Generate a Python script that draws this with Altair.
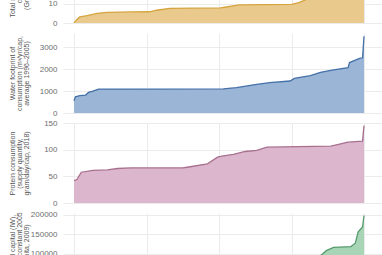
import altair as alt
import pandas as pd

x_ticks = [0, 50, 100, 150, 200]

# Panel 1: total renewable water (sorted by country rank)
res_rank = [0, 2, 4, 9, 16, 23, 39, 52, 57, 66, 101, 105, 114, 150, 155, 158, 165, 175, 185, 195, 200]
res_val = [0, 1.9, 3.2, 3.9, 5.1, 5.6, 5.8, 5.9, 6.7, 7.7, 7.9, 8.4, 9.5, 9.8, 10.7, 11.6, 14, 18, 24, 35, 60]
res_title = ["Total renewable water", "consumption", "(Gm³/year, 2017)"]
res_ticks = [0, 10, 20, 30, 40]

# Panel 2: water footprint
wf_rank = [0, 1, 4, 8, 10, 13, 17, 39, 103, 112, 126, 135, 149, 152, 163, 170, 178, 189, 190, 197, 199, 200]
wf_val = [560, 740, 790, 820, 940, 1000, 1090, 1090, 1100, 1155, 1310, 1385, 1460, 1580, 1700, 1855, 1960, 2070, 2300, 2490, 2520, 3500]
wf_title = ["Water footprint of", "consumption (m³/yr/cap,", "average 1996–2005)"]
wf_ticks = [0, 1000, 2000, 3000]

# Panel 3: protein consumption
pr_rank = [0, 2, 5, 13, 23, 30, 39, 75, 78, 92, 99, 102, 110, 118, 126, 133, 177, 181, 189, 199, 200]
pr_val = [42, 44, 57.7, 61, 62, 64.7, 65.8, 65.8, 67, 73.3, 86, 87.8, 91, 96.6, 98.5, 104.7, 106.6, 109, 114, 116, 145]
pr_title = ["Protein consumption", "(supply quantity,", "gram/day/cap, 2018)"]
pr_ticks = [0, 50, 100, 150]

# Panel 4: capital
cap_rank = [0, 20, 50, 80, 100, 120, 140, 155, 165, 171, 174, 179, 191, 194, 196, 199, 200]
cap_val = [300, 2000, 6000, 15000, 25000, 38000, 55000, 70000, 85000, 98500, 108500, 116750, 119000, 127500, 156700, 169000, 198500]
cap_title = ["Total natural capital (IW),", "(US dollars, constant 2005", "$ per capita, 2009)"]
cap_ticks = [0, 50000, 100000, 150000, 200000]


def panel(rank, val, fill, stroke, title, domain, ticks):
    df = pd.DataFrame({"rank": rank, "value": val})
    x = alt.X(
        "rank:Q",
        scale=alt.Scale(domain=[-7.59, 212.41], nice=False, zero=False),
        axis=alt.Axis(values=x_ticks, labels=False, ticks=False, domain=False,
                      title=None, grid=True),
    )
    y = alt.Y(
        "value:Q",
        scale=alt.Scale(domain=domain, nice=False, zero=True),
        axis=alt.Axis(values=ticks, format="d", title=title, ticks=False,
                      domain=False, labelPadding=6, titleX=-48, labelOverlap=False,
                      titleAngle=270, titleBaseline="bottom", titleAlign="center"),
    )
    base = alt.Chart(df).encode(x=x, y=y)
    area = base.mark_area(fill=fill, opacity=1, clip=True)
    line = base.mark_line(stroke=stroke, strokeWidth=1.3, clip=True)
    return alt.layer(area, line).properties(width=319, height=80)


p1 = panel(res_rank, res_val, "#e9ca8c", "#d6a43f", res_title, [0, 42], res_ticks)
p2 = panel(wf_rank, wf_val, "#9bb5d7", "#4470a8", wf_title, [0, 3650], wf_ticks)
p3 = panel(pr_rank, pr_val, "#dbb6cc", "#a8708f", pr_title, [0, 150], pr_ticks)
p4 = panel(cap_rank, cap_val, "#a8d5b5", "#579a6e", cap_title, [0, 205000], cap_ticks)

chart = (
    alt.vconcat(p1, p2, p3, p4, spacing=10, bounds="flush")
    .properties(padding={"top": -58, "left": 8, "right": 0, "bottom": 0},
                background="white")
    .configure_view(stroke=None)
    .configure_axis(
        labelFont="Liberation Sans", labelFontSize=8, labelColor="#6e6e6e",
        titleFont="Liberation Sans", titleFontSize=7, titleFontWeight="normal",
        titleColor="#555555", titleLineHeight=7,
        gridColor="#ebebeb", gridWidth=1,
    )
)

chart.save("out.html", embed_options={"renderer": "svg", "actions": False})
